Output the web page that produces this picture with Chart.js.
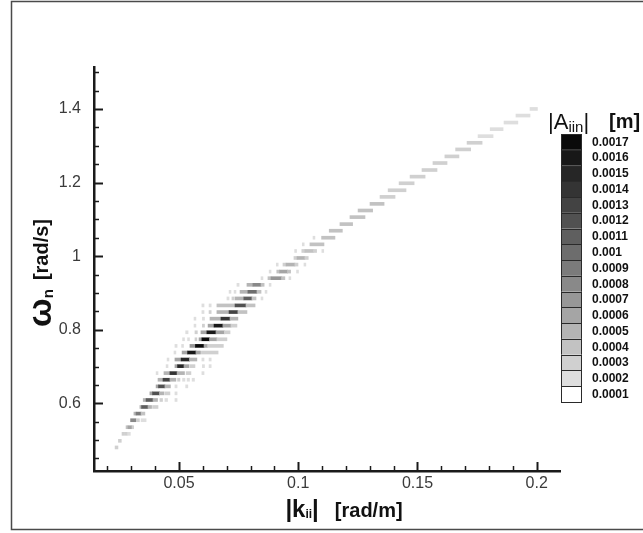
<!DOCTYPE html>
<html><head><meta charset="utf-8">
<script src="https://cdn.jsdelivr.net/npm/chart.js@4.4.1/dist/chart.umd.min.js"></script>
<style>html,body{margin:0;padding:0;background:#fff}canvas{display:block}</style>
</head><body>
<canvas id="c" width="643" height="533"></canvas>
<script>
// ---- data ----
// frequency of each row of cells [rad/s]
const omegaRows = [
  0.480, 0.498, 0.517, 0.535, 0.554, 0.572, 0.590, 0.609, 0.627, 0.646,
  0.664, 0.682, 0.701, 0.719, 0.738, 0.756, 0.774, 0.793, 0.811, 0.830,
  0.848, 0.866, 0.885, 0.903, 0.922, 0.940, 0.958, 0.977, 0.995, 1.014,
  1.032, 1.050, 1.069, 1.087, 1.106, 1.124, 1.142, 1.161, 1.179, 1.198,
  1.216, 1.234, 1.253, 1.271, 1.290, 1.308, 1.326, 1.345, 1.363, 1.382, 1.400
];
// per row: triplets [k from, k to, |A| in units of 1e-4 m]
const rowCells = [
  [0.0232,0.0244,3],
  [0.0246,0.0258,3],
  [0.0261,0.0272,3, 0.0275,0.0284,3, 0.0287,0.0296,2],
  [0.0278,0.0286,4, 0.0286,0.0303,6, 0.0303,0.0310,3],
  [0.0297,0.0320,8, 0.0323,0.0334,3, 0.0341,0.0362,2],
  [0.0311,0.0320,5, 0.0320,0.0341,9, 0.0341,0.0357,4],
  [0.0336,0.0343,5, 0.0343,0.0370,11, 0.0370,0.0385,5, 0.0389,0.0412,3],
  [0.0350,0.0362,5, 0.0362,0.0391,11, 0.0391,0.0410,5, 0.0420,0.0431,3, 0.0441,0.0452,2, 0.0483,0.0492,2],
  [0.0378,0.0389,6, 0.0389,0.0418,12, 0.0418,0.0437,5, 0.0441,0.0462,3, 0.0483,0.0492,2],
  [0.0404,0.0414,6, 0.0414,0.0441,12, 0.0441,0.0464,5, 0.0483,0.0492,2, 0.0528,0.0537,2],
  [0.0412,0.0433,5, 0.0433,0.0462,13, 0.0462,0.0487,5, 0.0494,0.0504,3, 0.0515,0.0525,2, 0.0534,0.0544,2, 0.0555,0.0565,2],
  [0.0404,0.0412,2, 0.0437,0.0462,5, 0.0462,0.0492,14, 0.0492,0.0523,5, 0.0530,0.0550,3, 0.0596,0.0605,2],
  [0.0446,0.0454,2, 0.0483,0.0494,6, 0.0494,0.0521,15, 0.0521,0.0542,6, 0.0546,0.0567,3, 0.0598,0.0607,2, 0.0626,0.0635,2],
  [0.0450,0.0458,2, 0.0483,0.0509,6, 0.0509,0.0544,15, 0.0544,0.0575,5, 0.0596,0.0605,2, 0.0626,0.0635,2],
  [0.0479,0.0487,2, 0.0513,0.0536,6, 0.0536,0.0571,16, 0.0571,0.0590,6, 0.0594,0.0664,3],
  [0.0483,0.0492,2, 0.0511,0.0519,2, 0.0546,0.0569,7, 0.0569,0.0605,17, 0.0605,0.0620,6, 0.0620,0.0686,3],
  [0.0515,0.0523,2, 0.0536,0.0544,2, 0.0567,0.0575,3, 0.0584,0.0596,6, 0.0596,0.0628,17, 0.0628,0.0659,6, 0.0659,0.0701,3],
  [0.0528,0.0538,2, 0.0567,0.0577,3, 0.0592,0.0617,6, 0.0617,0.0655,16, 0.0655,0.0690,6, 0.0690,0.0714,3],
  [0.0563,0.0571,2, 0.0598,0.0607,3, 0.0622,0.0647,6, 0.0647,0.0684,16, 0.0684,0.0718,6, 0.0718,0.0743,3],
  [0.0563,0.0571,2, 0.0598,0.0607,2, 0.0630,0.0676,5, 0.0676,0.0714,14, 0.0714,0.0747,5],
  [0.0596,0.0605,2, 0.0626,0.0635,3, 0.0659,0.0710,5, 0.0710,0.0747,13, 0.0747,0.0785,4],
  [0.0596,0.0605,2, 0.0626,0.0635,2, 0.0659,0.0735,4, 0.0735,0.0781,12, 0.0781,0.0819,4],
  [0.0701,0.0710,2, 0.0722,0.0731,3, 0.0735,0.0772,5, 0.0772,0.0806,11, 0.0806,0.0823,4, 0.0844,0.0852,2],
  [0.0710,0.0718,2, 0.0731,0.0739,2, 0.0756,0.0789,5, 0.0789,0.0827,10, 0.0827,0.0844,4, 0.0861,0.0869,2],
  [0.0743,0.0752,2, 0.0785,0.0810,5, 0.0810,0.0844,8, 0.0844,0.0857,4, 0.0878,0.0886,2],
  [0.0844,0.0852,2, 0.0873,0.0886,4, 0.0886,0.0930,7, 0.0930,0.0944,4, 0.0961,0.0969,2],
  [0.0878,0.0886,2, 0.0910,0.0922,4, 0.0922,0.0955,6, 0.0955,0.0968,4, 0.0993,0.1001,2],
  [0.0908,0.0916,2, 0.0936,0.0949,3, 0.0949,0.0986,5, 0.0986,0.0999,3, 0.1024,0.1032,2],
  [0.0982,0.0995,3, 0.0995,0.1028,5, 0.1028,0.1042,3],
  [0.0985,0.0993,2, 0.1015,0.1028,3, 0.1028,0.1064,4, 0.1064,0.1077,3, 0.1099,0.1107,2],
  [0.1017,0.1025,2, 0.1049,0.1108,4],
  [0.1062,0.1070,2, 0.1098,0.1154,4],
  [0.1130,0.1185,4],
  [0.1175,0.1228,4],
  [0.1217,0.1280,4],
  [0.1251,0.1312,4],
  [0.1301,0.1360,4],
  [0.1343,0.1406,3],
  [0.1377,0.1452,3],
  [0.1423,0.1486,3],
  [0.1469,0.1532,3],
  [0.1519,0.1582,3],
  [0.1565,0.1624,3],
  [0.1615,0.1674,3],
  [0.1660,0.1723,3],
  [0.1708,0.1771,3],
  [0.1754,0.1817,2],
  [0.1805,0.1859,2],
  [0.1863,0.1921,2],
  [0.1913,0.1972,2],
  [0.1972,0.2003,2]
];
const legendLevels = [0.0017,0.0016,0.0015,0.0014,0.0013,0.0012,0.0011,0.001,0.0009,0.0008,0.0007,0.0006,0.0005,0.0004,0.0003,0.0002,0.0001];
const legendLabels = ['0.0017','0.0016','0.0015','0.0014','0.0013','0.0012','0.0011','0.001','0.0009','0.0008','0.0007','0.0006','0.0005','0.0004','0.0003','0.0002','0.0001'];
const xTickValues = [0.05, 0.1, 0.15, 0.2];
const xTickLabels = ['0.05', '0.1', '0.15', '0.2'];
const xMinorTicks = [0.02,0.03,0.04,0.06,0.07,0.08,0.09,0.11,0.12,0.13,0.14,0.16,0.17,0.18,0.19];
const yTickValues = [0.6, 0.8, 1, 1.2, 1.4];
const yTickLabels = ['0.6', '0.8', '1', '1.2', '1.4'];
const yMinorTicks = [0.45,0.5,0.55,0.65,0.7,0.75,0.85,0.9,0.95,1.05,1.1,1.15,1.25,1.3,1.35,1.45,1.5];

// ---- drawing ----
const FONT = '"Liberation Sans", Arial, sans-serif';
function grayFor(level) {
  if (level <= 1) return '#ffffff';
  const v = Math.round(222 - (level - 2) * 212 / 15);
  return 'rgb(' + v + ',' + v + ',' + v + ')';
}
const barData = [];
rowCells.forEach((row, i) => {
  for (let j = 0; j < row.length; j += 3) {
    barData.push({ x: [row[j], row[j + 1]], y: omegaRows[i], a: row[j + 2] });
  }
});

function drawRuns(c, runs, x, y) {
  let total = 0;
  runs.forEach(r => { c.font = r.font; r.w = c.measureText(r.text).width + (r.gap || 0); total += r.w; });
  let cx = x - total / 2;
  runs.forEach(r => { c.font = r.font; c.fillText(r.text, cx, y + (r.dy || 0)); cx += r.w; });
}

const decor = {
  id: 'decor',
  beforeDraw(chart) {
    const c = chart.ctx;
    c.save();
    c.fillStyle = '#fff';
    c.fillRect(0, 0, chart.width, chart.height);
    c.strokeStyle = '#4a4a4a';
    c.lineWidth = 1.5;
    c.beginPath();
    c.moveTo(chart.width + 5, 1.5);
    c.lineTo(11.5, 1.5);
    c.lineTo(11.5, 529.5);
    c.lineTo(chart.width + 5, 529.5);
    c.stroke();
    c.restore();
  },
  afterDraw(chart) {
    const c = chart.ctx, xs = chart.scales.x, ys = chart.scales.y, a = chart.chartArea;
    c.save();
    c.strokeStyle = '#1a1a1a';
    const tick = (x1, y1, x2, y2, w) => { c.lineWidth = w; c.beginPath(); c.moveTo(x1, y1); c.lineTo(x2, y2); c.stroke(); };
    xTickValues.forEach(v => { const p = Math.round(xs.getPixelForValue(v)) + 0.5; tick(p, a.bottom, p, a.bottom - 9, 2); });
    xMinorTicks.forEach(v => { const p = Math.round(xs.getPixelForValue(v)) + 0.5; tick(p, a.bottom, p, a.bottom - 5, 1.5); });
    yTickValues.forEach(v => { const p = Math.round(ys.getPixelForValue(v)) + 0.5; tick(a.left, p, a.left + 9, p, 2); });
    yMinorTicks.forEach(v => { const p = Math.round(ys.getPixelForValue(v)) + 0.5; tick(a.left, p, a.left + 5, p, 1.5); });

    // axis titles
    c.fillStyle = '#111';
    c.textBaseline = 'alphabetic';
    c.textAlign = 'left';
    drawRuns(c, [
      { text: '|', font: 'bold 24px ' + FONT },
      { text: 'k', font: 'bold 24px ' + FONT },
      { text: 'ii', font: 'bold 12px ' + FONT, dy: 1 },
      { text: '|', font: 'bold 24px ' + FONT, gap: 16 },
      { text: '[rad/m]', font: 'bold 20px ' + FONT }
    ], 344, 517);
    c.save();
    c.translate(50, 273);
    c.rotate(-Math.PI / 2);
    drawRuns(c, [
      { text: 'ω', font: 'bold 34px ' + FONT, dy: 1 },
      { text: 'n', font: 'bold 15px ' + FONT, dy: 3, gap: 9 },
      { text: '[rad/s]', font: 'bold 20px ' + FONT, dy: -2 }
    ], 0, 0);
    c.restore();

    // colour bar
    const cbX = 561, cbW = 21, cbTop = 134, cellH = 15.76;
    c.font = 'bold 12px ' + FONT;
    c.textBaseline = 'middle';
    legendLevels.forEach((lv, i) => {
      const y = cbTop + i * cellH;
      c.fillStyle = grayFor(Math.round(lv * 1e4));
      c.fillRect(cbX, y, cbW, cellH);
      c.strokeStyle = '#2a2a2a';
      c.lineWidth = 1;
      c.strokeRect(cbX + 0.5, Math.round(y) + 0.5, cbW - 1, Math.round(cellH));
      c.fillStyle = '#111';
      c.fillText(legendLabels[i], 592, y + cellH / 2 + 0.5);
    });
    c.textBaseline = 'alphabetic';
    c.fillStyle = '#111';
    let x = 548;
    const runs = [
      { text: '|A', font: '22px ' + FONT, dy: 0 },
      { text: 'iin', font: '15px ' + FONT, dy: 3 },
      { text: '|', font: '22px ' + FONT, dy: 0 }
    ];
    runs.forEach(r => { c.font = r.font; c.fillText(r.text, x, 129 + r.dy); x += c.measureText(r.text).width; });
    c.font = 'bold 20px ' + FONT;
    c.fillText('[m]', 609, 128);
    c.restore();
  }
};

const tickFont = { family: FONT, size: 16 };
new Chart(document.getElementById('c'), {
  type: 'bar',
  data: {
    datasets: [{
      data: barData,
      backgroundColor: ctx => grayFor(ctx.raw ? ctx.raw.a : 1),
      borderWidth: 0,
      barThickness: 3,
      grouped: false
    }]
  },
  options: {
    indexAxis: 'y',
    responsive: false,
    animation: false,
    events: [],
    layout: { padding: { left: 0, right: 83, top: 67, bottom: 0 } },
    plugins: { legend: { display: false }, tooltip: { enabled: false } },
    scales: {
      x: {
        type: 'linear', position: 'bottom', min: 0.01436, max: 0.20977, offset: false,
        grid: { display: false, drawTicks: false, offset: false },
        border: { display: true, color: '#1a1a1a', width: 2.5 },
        ticks: { font: tickFont, color: '#3a3a3a', padding: 3, autoSkip: false, maxRotation: 0,
          callback: (v, i) => xTickLabels[i] },
        afterBuildTicks: s => { s.ticks = xTickValues.map(v => ({ value: v })); },
        afterFit: s => { s.height = 62; }
      },
      y: {
        type: 'linear', position: 'left', min: 0.416, max: 1.514, offset: false,
        grid: { display: false, drawTicks: false, offset: false },
        border: { display: true, color: '#1a1a1a', width: 2.5 },
        ticks: { font: tickFont, color: '#3a3a3a', padding: 13, autoSkip: false,
          callback: (v, i) => yTickLabels[i] },
        afterBuildTicks: s => { s.ticks = yTickValues.map(v => ({ value: v })); },
        afterFit: s => { s.width = 94; }
      }
    }
  },
  plugins: [decor]
});
</script>
</body></html>
